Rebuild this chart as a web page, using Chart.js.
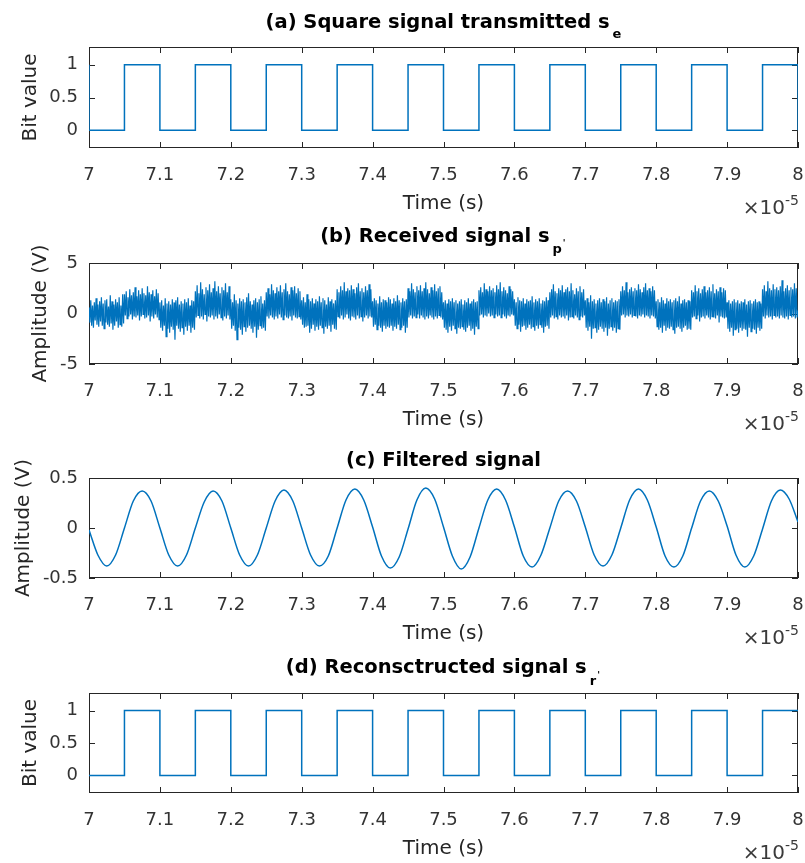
<!DOCTYPE html>
<html>
<head>
<meta charset="utf-8">
<script src="https://cdn.jsdelivr.net/npm/chart.js@4.4.1/dist/chart.umd.min.js"></script>
<style>
  body { margin: 0; background: #fff; }
  #wrap { position: relative; width: 805px; height: 863px; background: #fff; }
  #wrap canvas { position: absolute; left: 0; }
</style>
</head>
<body>
<div id="wrap">
  <canvas id="chartA" width="805" height="215" style="top:0px"></canvas>
  <canvas id="chartB" width="805" height="215" style="top:215px"></canvas>
  <canvas id="chartC" width="805" height="215" style="top:430px"></canvas>
  <canvas id="chartD" width="805" height="218" style="top:645px"></canvas>
</div>
<script>
// time axis is in units of 1e-5 s
const timeTicks = [7, 7.1, 7.2, 7.3, 7.4, 7.5, 7.6, 7.7, 7.8, 7.9, 8];
const bitTicks = [0, 0.5, 1];
const rxTicks = [-5, 0, 5];
const filtTicks = [-0.5, 0, 0.5];

// (a) transmitted square signal (edges)
const sentTimes = [7, 7, 7.05, 7.1, 7.15, 7.2, 7.25, 7.3, 7.35, 7.4, 7.45, 7.5, 7.55, 7.6, 7.65, 7.7, 7.75, 7.8, 7.85, 7.9, 7.95, 8];
const sentBits  = [1, 0, 1, 0, 1, 0, 1, 0, 1, 0, 1, 0, 1, 0, 1, 0, 1, 0, 1, 0, 1, 0];

// (b) received noisy signal, one sample every 0.00125, one row per bit (0.05)
const rxStep = 0.00125;
const receivedV = [
  0.6, -0.9, 1.3, -1.2, 0.8, -1.4, 1.1, -0.7, 1.5, -1.1, 0.9, -1.3, 1.2, -0.8, 1.6, -1.2, 1.0, -1.5, 1.3, -0.9, 1.4, -1.1, 0.7, -1.3, 1.8, -1.0, 1.2, -1.6, 0.9, -1.2, 1.4, -0.8, 1.1, -1.4, 1.6, -1.1, 0.8, -1.3, 1.9, -1.0,
  1.9, -0.2, 2.2, -0.5, 1.6, -0.3, 2.4, -0.1, 1.8, -0.6, 2.1, -0.3, 2.6, -0.4, 1.7, -0.2, 2.3, -0.7, 1.9, -0.3, 2.5, -0.1, 2.0, -0.5, 1.8, -0.4, 2.7, -0.2, 2.1, -0.8, 1.9, -0.3, 2.3, -0.5, 1.7, -0.1, 2.4, -0.4, 2.0, -0.6,
  1.1, -1.4, 1.3, -1.7, 0.8, -1.2, 1.5, -2.3, 1.0, -1.5, 1.2, -1.9, 0.9, -1.3, 1.4, -1.6, 1.1, -2.6, 1.3, -1.2, 1.6, -1.5, 0.9, -1.8, 1.2, -1.4, 1.0, -2.1, 1.4, -1.3, 1.1, -1.7, 1.5, -1.2, 0.8, -1.9, 1.3, -1.4, 1.2, -1.6,
  2.2, -0.4, 2.8, -0.2, 2.0, -0.5, 3.1, -0.3, 2.4, -0.6, 1.9, -0.1, 2.6, -0.8, 2.3, -0.3, 2.9, -0.4, 2.1, -0.2, 2.5, -0.6, 3.2, -0.3, 2.2, -0.5, 2.7, -0.1, 2.0, -0.4, 2.6, -0.7, 2.3, -0.3, 3.0, -0.5, 2.1, -0.2, 2.7, -0.6,
  1.4, -1.5, 1.1, -1.2, 1.9, -1.7, 1.3, -2.6, 1.0, -1.4, 1.5, -1.6, 1.2, -2.1, 1.4, -1.3, 1.1, -1.8, 1.6, -1.4, 2.0, -1.2, 1.2, -1.5, 0.9, -1.9, 1.3, -1.3, 1.5, -2.4, 1.1, -1.6, 1.4, -1.2, 1.7, -1.5, 1.0, -1.4, 1.3, -1.7,
  2.1, -0.3, 2.5, -0.5, 1.9, -0.2, 2.9, -0.4, 2.3, -0.6, 2.0, -0.3, 2.6, -0.5, 2.2, -0.1, 2.8, -0.4, 2.1, -0.6, 2.4, -0.2, 3.0, -0.4, 2.2, -0.5, 1.9, -0.3, 2.6, -0.7, 2.3, -0.2, 2.7, -0.4, 2.0, -0.5, 2.5, -0.3, 2.2, -0.6,
  1.3, -1.1, 1.6, -1.4, 1.1, -1.3, 1.9, -1.2, 1.4, -1.9, 1.2, -1.5, 1.5, -1.1, 1.0, -1.7, 1.4, -1.3, 1.2, -1.6, 1.7, -1.2, 1.1, -1.4, 1.5, -2.0, 1.3, -1.3, 0.9, -1.5, 1.6, -1.2, 1.2, -1.8, 1.4, -1.1, 1.0, -1.5, 1.3, -1.6,
  2.4, -0.3, 2.1, -0.5, 2.7, -0.2, 2.3, -0.6, 3.1, -0.4, 2.2, -0.1, 2.5, -0.5, 2.3, -0.7, 2.8, -0.3, 2.4, -0.4, 2.0, -0.6, 2.6, -0.2, 3.0, -0.5, 2.2, -0.3, 2.5, -0.8, 2.1, -0.4, 2.7, -0.2, 2.3, -0.5, 2.9, -0.3, 2.4, -0.4,
  1.2, -1.3, 1.5, -1.1, 1.3, -1.6, 1.0, -1.2, 1.7, -1.4, 1.1, -1.8, 1.4, -1.2, 1.3, -1.5, 1.1, -1.3, 1.6, -1.4, 1.4, -1.2, 1.0, -1.7, 1.5, -1.3, 1.2, -1.5, 1.8, -1.1, 1.3, -1.6, 1.1, -1.4, 1.5, -1.2, 1.2, -1.9, 1.4, -1.4,
  2.5, -0.4, 2.2, -0.2, 3.0, -0.5, 2.4, -0.3, 2.1, -0.4, 2.7, -0.1, 2.3, -0.5, 2.8, -0.2, 2.2, -0.4, 2.5, -0.6, 3.1, -0.3, 2.4, -0.5, 2.0, -0.2, 2.6, -0.4, 2.3, -0.6, 2.9, -0.3, 2.2, -0.5, 2.5, -0.2, 2.7, -0.4, 2.1, -0.6,
  1.1, -1.4, 1.3, -1.6, 1.0, -1.9, 1.4, -1.3, 1.2, -1.7, 1.5, -1.2, 1.1, -1.5, 1.3, -2.0, 1.0, -1.4, 1.2, -1.5, 1.4, -1.3, 0.9, -1.6, 1.3, -1.8, 1.1, -1.4, 1.5, -1.2, 1.0, -1.7, 1.2, -1.5, 1.4, -2.1, 1.1, -1.3, 1.2, -1.5,
  2.3, -0.2, 2.6, -0.1, 2.1, -0.4, 3.0, -0.2, 2.4, -0.3, 2.2, 0.0, 2.7, -0.3, 2.3, -0.2, 2.5, -0.4, 2.1, -0.1, 2.8, -0.3, 2.4, -0.2, 3.1, -0.4, 2.2, -0.1, 2.6, -0.3, 2.3, -0.5, 2.0, -0.2, 2.7, -0.3, 2.4, -0.1, 2.2, -0.2,
  1.4, -1.2, 1.1, -1.5, 1.6, -1.1, 1.3, -1.8, 1.2, -1.3, 1.5, -1.2, 1.0, -1.6, 1.4, -1.4, 1.2, -1.1, 1.3, -1.5, 1.7, -1.3, 1.1, -1.7, 1.4, -1.2, 1.2, -1.5, 1.5, -1.1, 1.0, -1.4, 1.3, -1.9, 1.2, -1.3, 1.6, -1.2, 1.3, -1.5,
  2.1, -0.4, 2.4, -0.2, 2.9, -0.5, 2.2, -0.3, 2.0, -0.6, 2.5, -0.2, 2.3, -0.4, 2.8, -0.3, 2.1, -0.5, 2.4, -0.2, 2.6, -0.7, 2.2, -0.4, 3.0, -0.3, 2.3, -0.5, 1.9, -0.2, 2.5, -0.4, 2.2, -0.6, 2.7, -0.3, 2.1, -0.4, 2.4, -0.2,
  1.3, -1.4, 1.5, -1.7, 1.1, -1.3, 1.8, -2.5, 1.2, -1.5, 1.4, -1.4, 1.0, -1.9, 1.3, -1.6, 1.5, -1.3, 1.1, -1.5, 1.4, -1.8, 1.2, -1.4, 1.6, -2.2, 1.0, -1.5, 1.3, -1.3, 1.5, -1.7, 1.1, -1.4, 1.3, -1.9, 1.2, -1.5, 1.4, -1.6,
  2.2, -0.2, 2.7, -0.1, 2.3, -0.4, 3.1, -0.2, 2.1, -0.3, 2.4, -0.1, 2.6, -0.4, 2.2, -0.2, 2.5, -0.3, 2.3, -0.5, 2.9, -0.2, 2.4, -0.3, 2.1, -0.1, 2.6, -0.4, 3.0, -0.2, 2.3, -0.3, 2.5, -0.5, 2.2, -0.2, 2.7, -0.3, 2.3, -0.5,
  1.2, -1.3, 1.4, -1.6, 1.1, -1.4, 1.6, -1.9, 1.3, -1.2, 1.0, -1.7, 1.5, -1.4, 1.2, -1.5, 1.4, -1.3, 1.1, -1.6, 1.3, -2.0, 1.5, -1.4, 1.2, -1.3, 1.7, -1.5, 1.0, -1.8, 1.3, -1.4, 1.4, -1.2, 1.1, -1.6, 1.3, -1.5, 1.2, -1.6,
  2.3, -0.4, 2.1, -0.3, 2.8, -0.5, 2.2, -0.2, 2.5, -0.8, 2.0, -0.4, 2.4, -0.3, 2.7, -0.5, 2.1, -0.2, 2.3, -0.4, 2.6, -0.6, 2.2, -0.3, 2.9, -0.4, 2.0, -0.5, 2.4, -0.2, 2.2, -0.9, 2.6, -0.3, 2.1, -0.4, 2.5, -0.5, 2.3, -0.4,
  1.1, -1.5, 1.3, -1.8, 1.0, -1.4, 1.2, -2.2, 1.4, -1.6, 1.1, -1.5, 1.3, -1.9, 1.0, -1.4, 1.2, -1.7, 1.1, -1.5, 1.4, -1.6, 0.9, -2.3, 1.2, -1.4, 1.3, -1.8, 1.0, -1.5, 1.2, -1.6, 1.4, -2.0, 1.1, -1.4, 1.2, -1.7, 1.0, -1.5,
  2.4, -0.3, 2.8, -0.5, 2.2, -0.2, 3.2, -0.4, 2.5, -0.3, 2.3, -0.6, 2.9, -0.2, 2.4, -0.4, 2.6, -0.3, 2.3, -0.5, 2.7, -0.2, 3.3, -0.4, 2.2, -0.5, 2.5, -0.3, 2.8, -0.6, 2.3, -0.2, 2.6, -0.4, 2.4, -0.3, 3.0, -0.5, 2.5, -0.4,
  0.3
];

// (c) filtered signal, one sample every 0.0125 (8 per period)
const filtStep = 0.0125;
const filteredV = [
  -0.02, -0.27, -0.38, -0.27, 0.00, 0.27, 0.37, 0.27,
  0.00, -0.27, -0.38, -0.27, 0.00, 0.26, 0.37, 0.27,
  0.00, -0.27, -0.38, -0.27, 0.00, 0.27, 0.38, 0.27,
  0.00, -0.27, -0.38, -0.28, 0.00, 0.28, 0.39, 0.28,
  0.01, -0.28, -0.40, -0.29, -0.01, 0.28, 0.40, 0.29,
  0.01, -0.28, -0.41, -0.29, 0.00, 0.28, 0.39, 0.28,
  0.01, -0.28, -0.39, -0.27, 0.00, 0.27, 0.37, 0.27,
  0.01, -0.27, -0.38, -0.27, 0.00, 0.28, 0.39, 0.28,
  0.01, -0.28, -0.39, -0.28, 0.00, 0.27, 0.37, 0.27,
  0.02, -0.27, -0.39, -0.28, -0.01, 0.27, 0.38, 0.29,
  0.06
];

// (d) reconstructed square signal (edges)
const recTimes = [7, 7.05, 7.1, 7.15, 7.2, 7.25, 7.3, 7.35, 7.4, 7.45, 7.5, 7.55, 7.6, 7.65, 7.7, 7.75, 7.8, 7.85, 7.9, 7.95, 8];
const recBits  = [0, 1, 0, 1, 0, 1, 0, 1, 0, 1, 0, 1, 0, 1, 0, 1, 0, 1, 0, 1, 1];

const lineBlue = '#0072BD';
const axisGray = '#262626';
const FONT = '"DejaVu Sans", sans-serif';

function toPoints(xs, ys) {
  return ys.map((v, i) => ({ x: xs[i], y: v }));
}
function sampled(start, step, ys) {
  return ys.map((v, i) => ({ x: start + i * step, y: v }));
}

// box, inner ticks, title with subscript and the x10^-5 note
const matlabAxes = {
  id: 'matlabAxes',
  beforeDatasetsDraw(chart, args, o) {
    const { ctx, chartArea: a, scales } = chart;
    ctx.save();
    ctx.strokeStyle = axisGray;
    ctx.lineWidth = 1;
    ctx.strokeRect(a.left + 0.5, a.top + 0.5, a.right - a.left - 1, a.bottom - a.top - 1);
    ctx.beginPath();
    timeTicks.forEach(v => {
      const px = Math.round(scales.x.getPixelForValue(v)) + 0.5;
      ctx.moveTo(px, a.bottom); ctx.lineTo(px, a.bottom - 6);
      ctx.moveTo(px, a.top); ctx.lineTo(px, a.top + 6);
    });
    o.yTicks.forEach(v => {
      const py = Math.round(scales.y.getPixelForValue(v)) + 0.5;
      ctx.moveTo(a.left, py); ctx.lineTo(a.left + 6, py);
      ctx.moveTo(a.right, py); ctx.lineTo(a.right - 6, py);
    });
    ctx.stroke();
    ctx.restore();
  },
  afterDraw(chart, args, o) {
    const { ctx, chartArea: a } = chart;
    ctx.save();
    ctx.textBaseline = 'alphabetic';
    ctx.textAlign = 'left';

    // title
    ctx.fillStyle = '#000';
    ctx.font = 'bold 19.5px ' + FONT;
    const mainW = ctx.measureText(o.title).width;
    let subW = 0;
    if (o.sub) {
      ctx.font = 'bold 13px ' + FONT;
      subW = 3 + ctx.measureText(o.sub).width;
    }
    const primeW = o.prime ? 5 : 0;
    let tx = (a.left + a.right) / 2 - (mainW + subW + primeW) / 2;
    ctx.font = 'bold 19.5px ' + FONT;
    ctx.fillText(o.title, tx, a.top + o.titleBase);
    tx += mainW;
    if (o.sub) {
      ctx.font = 'bold 13px ' + FONT;
      ctx.fillText(o.sub, tx + 3, a.top + o.subBase);
      tx += subW;
    }
    if (o.prime) {
      ctx.font = 'bold 9px ' + FONT;
      ctx.fillText("'", tx + 1, a.top + o.subBase - 7);
    }

    // exponent of the time axis
    ctx.fillStyle = '#3a3a3a';
    ctx.font = '14px ' + FONT;
    const supW = ctx.measureText('-5').width;
    ctx.font = '20px ' + FONT;
    const baseW = ctx.measureText('\u00d710').width;
    const right = a.right + 1;
    ctx.fillText('\u00d710', right - supW - baseW, a.bottom + 66);
    ctx.font = '14px ' + FONT;
    ctx.fillText('-5', right - supW, a.bottom + 57);
    ctx.restore();
  }
};

function makePanel(id, cfg) {
  const canvas = document.getElementById(id);
  const h = canvas.height;
  const xh = h - cfg.areaBottom;
  return new Chart(canvas, {
    type: 'line',
    data: {
      datasets: [{
        data: cfg.data,
        borderColor: lineBlue,
        borderWidth: cfg.lineWidth || 1.5,
        pointRadius: 0,
        fill: false,
        stepped: cfg.stepped || false,
        cubicInterpolationMode: cfg.smooth ? 'monotone' : 'default',
        tension: 0
      }]
    },
    options: {
      responsive: false,
      animation: false,
      devicePixelRatio: 1,
      layout: { padding: { top: cfg.areaTop, right: 7, bottom: 0, left: 0 } },
      plugins: {
        legend: { display: false },
        title: { display: false },
        tooltip: { enabled: false },
        matlabAxes: {
          yTicks: cfg.yTicks,
          title: cfg.title,
          sub: cfg.sub,
          prime: cfg.prime,
          titleBase: cfg.titleBase,
          subBase: cfg.subBase
        }
      },
      scales: {
        x: {
          type: 'linear',
          min: 7,
          max: 8,
          afterBuildTicks: s => { s.ticks = timeTicks.map(v => ({ value: v })); },
          afterFit: s => {
            s.height = xh;
            // keep the last tick label from shrinking the plot box
            s.paddingLeft = 0;
            s.paddingRight = 0;
          },
          grid: { display: false, drawTicks: false },
          border: { display: false },
          ticks: {
            padding: 17,
            color: '#333',
            font: { family: FONT, size: 18 },
            maxRotation: 0,
            autoSkip: false,
            callback: v => String(v)
          },
          title: {
            display: true,
            text: 'Time (s)',
            color: axisGray,
            font: { family: FONT, size: 20 },
            padding: { top: 0, bottom: xh - 68 }
          }
        },
        y: {
          min: cfg.yMin,
          max: cfg.yMax,
          afterBuildTicks: s => { s.ticks = cfg.yTicks.map(v => ({ value: v })); },
          afterFit: s => {
            s.width = 89;
            s.paddingTop = 0;
            s.paddingBottom = 0;
          },
          grid: { display: false, drawTicks: false },
          border: { display: false },
          ticks: {
            padding: 11,
            color: '#333',
            font: { family: FONT, size: 18 },
            autoSkip: false,
            callback: v => String(v)
          },
          title: {
            display: true,
            text: cfg.yLabel,
            color: axisGray,
            font: { family: FONT, size: 20 },
            padding: { top: cfg.yTitlePad, bottom: 0 }
          }
        }
      }
    },
    plugins: [matlabAxes]
  });
}

makePanel('chartA', {
  data: toPoints(sentTimes, sentBits), stepped: 'before',
  yMin: -0.27, yMax: 1.27, yTicks: bitTicks, yLabel: 'Bit value', yTitlePad: 19,
  areaTop: 47, areaBottom: 148,
  title: '(a) Square signal transmitted s', sub: 'e', titleBase: -18.7, subBase: -8.7
});
makePanel('chartB', {
  data: sampled(7, rxStep, receivedV), lineWidth: 1.2,
  yMin: -5, yMax: 5, yTicks: rxTicks, yLabel: 'Amplitude (V)', yTitlePad: 29,
  areaTop: 48, areaBottom: 149,
  title: '(b) Received signal s', sub: 'p', prime: true, titleBase: -21.3, subBase: -9.7
});
makePanel('chartC', {
  data: sampled(7, filtStep, filteredV), smooth: true,
  yMin: -0.5, yMax: 0.5, yTicks: filtTicks, yLabel: 'Amplitude (V)', yTitlePad: 12,
  areaTop: 48, areaBottom: 148,
  title: '(c) Filtered signal', titleBase: -12.3
});
makePanel('chartD', {
  data: toPoints(recTimes, recBits), stepped: 'before',
  yMin: -0.27, yMax: 1.27, yTicks: bitTicks, yLabel: 'Bit value', yTitlePad: 19,
  areaTop: 48, areaBottom: 148,
  title: '(d) Reconsctructed signal s', sub: 'r', prime: true, titleBase: -19.7, subBase: -8
});
</script>
</body>
</html>
